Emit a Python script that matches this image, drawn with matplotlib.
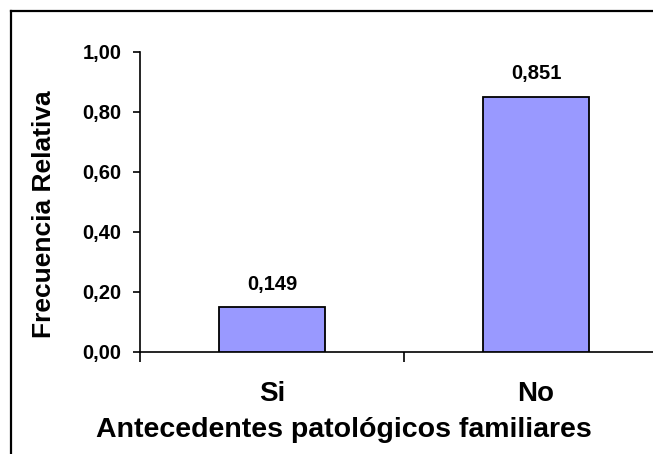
import matplotlib
matplotlib.use('Agg')
from matplotlib import pyplot as plt
from matplotlib.lines import Line2D
import numpy as np

categorias = ['Si', 'No']
frecuencias = [0.149, 0.851]
etiquetas = ['0,149', '0,851']
yticks = [0.0, 0.2, 0.4, 0.6, 0.8, 1.0]
ytick_labels = ['0,00', '0,20', '0,40', '0,60', '0,80', '1,00']

plt.rcParams['font.family'] = ['Liberation Sans', 'DejaVu Sans']
plt.rcParams['font.weight'] = 'bold'

fig = plt.figure(figsize=(6.53, 4.54), dpi=100)
ax = fig.add_axes([140/653, 102/454, 528/653, 300/454])

x = np.arange(len(categorias))
ax.bar(x, frecuencias, width=0.4, color='#9999FF', edgecolor='black', linewidth=1.3, zorder=3)
for xi, v, t in zip(x, frecuencias, etiquetas):
    ax.annotate(t, (xi, v), xytext=(0, 12.5), textcoords='offset points',
                ha='center', va='baseline', fontsize=14.5, fontweight='bold')

ax.set_xlim(-0.5, 1.5)
ax.set_ylim(0, 1.0)
ax.set_yticks(yticks)
ax.set_yticklabels(ytick_labels, fontsize=14.5, fontweight='bold')
ax.set_xticks(x)
ax.set_xticklabels(categorias, fontsize=20, fontweight='bold')
ax.tick_params(axis='x', length=0, pad=21)
ax.set_xticks([-0.5, 0.5, 1.5], minor=True)
ax.tick_params(axis='x', which='minor', length=7, width=1.2, direction='out')
ax.tick_params(axis='y', length=5, width=1.2, direction='out', pad=8.5)

for s in ['top', 'right']:
    ax.spines[s].set_visible(False)
for s in ['left', 'bottom']:
    ax.spines[s].set_linewidth(1.2)

ax.set_xlabel('Antecedentes patológicos familiares', fontsize=20.5, fontweight='bold', va='baseline')
ax.xaxis.set_label_coords(0.387, -0.283)
ax.set_ylabel('Frecuencia Relativa', fontsize=19, fontweight='bold', va='center')
ax.yaxis.set_label_coords(-0.182, 0.46)

# marco exterior
fig.add_artist(Line2D([11/653, 11/653], [0, 1 - 11/454], transform=fig.transFigure, color='black', lw=1.6))
fig.add_artist(Line2D([11/653, 1], [1 - 11/454, 1 - 11/454], transform=fig.transFigure, color='black', lw=1.6))

fig.savefig('out.png', dpi=100)
